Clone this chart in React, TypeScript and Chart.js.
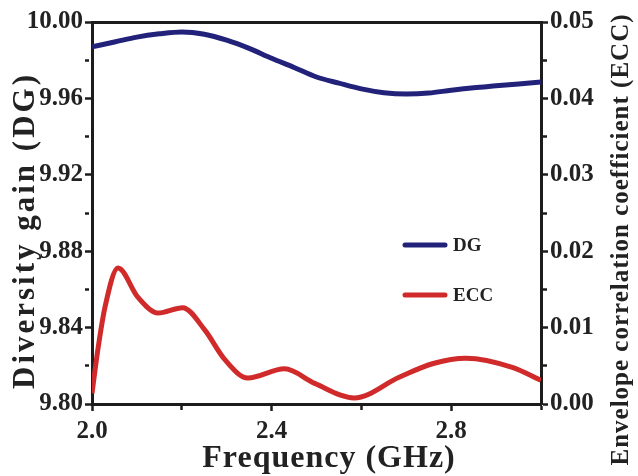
import React, { useEffect, useRef } from "react";
import { Chart, registerables } from "chart.js";

Chart.register(...registerables);

const dgFreq = [2.0, 2.05, 2.1, 2.15, 2.2, 2.25, 2.3, 2.35, 2.4, 2.45, 2.5, 2.55, 2.6, 2.65, 2.7, 2.75, 2.8, 2.85, 2.9, 2.95, 3.0];
const dgValues = [9.987, 9.9895, 9.9921, 9.9938, 9.9948, 9.9936, 9.9905, 9.9862, 9.981, 9.9762, 9.9712, 9.968, 9.965, 9.963, 9.9623, 9.9628, 9.9643, 9.9656, 9.9666, 9.9676, 9.9686];

const eccFreq = [2.0, 2.013, 2.029, 2.058, 2.102, 2.147, 2.202, 2.251, 2.296, 2.347, 2.429, 2.496, 2.584, 2.684, 2.76, 2.833, 2.936, 3.0];
const eccValues = [0.0014, 0.0071, 0.0127, 0.0178, 0.014, 0.0119, 0.0126, 0.0097, 0.0058, 0.0034, 0.0046, 0.0027, 0.0008, 0.0035, 0.0053, 0.006, 0.0048, 0.0031];

const xTicks = [2.0, 2.4, 2.8];
const leftTitle = "Diversity gain (DG)";
const rightTitle = "Envelope correlation coefficient (ECC)";
const xTitle = "Frequency (GHz)";
const seriesNames = ["DG", "ECC"];
const seriesColors = ["#22227a", "#d02a2a"];

const FONT = "'Liberation Serif', 'Times New Roman', serif";
const AXIS = "#1c1c1c";

export default function App() {
  const ref = useRef<HTMLCanvasElement | null>(null);

  useEffect(() => {
    if (!ref.current) return;
    const minorDash = (ctx: any) => (ctx.index % 2 ? [4, 60] : []);
    const legendPlugin = {
      id: "inlineLegend",
      afterDatasetsDraw(chart: any) {
        const { ctx, chartArea } = chart;
        ctx.save();
        chart.data.datasets.forEach((ds: any, i: number) => {
          const x0 = chartArea.left + 313;
          const y = chartArea.top + 223 + i * 50;
          ctx.strokeStyle = ds.borderColor;
          ctx.lineWidth = 5;
          ctx.lineCap = "round";
          ctx.beginPath();
          ctx.moveTo(x0, y);
          ctx.lineTo(x0 + 40, y);
          ctx.stroke();
          ctx.fillStyle = "#222";
          ctx.font = `bold 19px ${FONT}`;
          ctx.textBaseline = "middle";
          ctx.textAlign = "left";
          ctx.fillText(ds.label, x0 + 48, y + 1);
        });
        ctx.restore();
      },
    };
    const drawText = (ctx: any, text: string, x: number, y: number, size: number, spacing: number, rotate: boolean) => {
      ctx.save();
      ctx.translate(x, y);
      if (rotate) ctx.rotate(-Math.PI / 2);
      ctx.fillStyle = "#222";
      ctx.font = `bold ${size}px ${FONT}`;
      try {
        ctx.letterSpacing = `${spacing}px`;
      } catch (e) {}
      ctx.textAlign = "center";
      ctx.textBaseline = "alphabetic";
      ctx.fillText(text, spacing / 2, 0);
      ctx.restore();
    };
    const titlesPlugin = {
      id: "axisTitles",
      afterDraw(chart: any) {
        const { ctx, chartArea } = chart;
        const midY = (chartArea.top + chartArea.bottom) / 2;
        const midX = (chartArea.left + chartArea.right) / 2;
        drawText(ctx, leftTitle, 34, midY + 19, 31, 3, true);
        drawText(ctx, rightTitle, chart.width - 10, midY + 27, 25, 1, true);
        drawText(ctx, xTitle, midX + 12, chart.height - 9, 32, 1, false);
      },
    };

    const chart = new Chart(ref.current, {
      type: "line",
      data: {
        datasets: [
          {
            label: seriesNames[0],
            data: dgFreq.map((f, i) => ({ x: f, y: dgValues[i] })),
            borderColor: seriesColors[0],
            backgroundColor: seriesColors[0],
            borderWidth: 5,
            pointRadius: 0,
            cubicInterpolationMode: "monotone",
            yAxisID: "y",
          },
          {
            label: seriesNames[1],
            data: eccFreq.map((f, i) => ({ x: f, y: eccValues[i] })),
            borderColor: seriesColors[1],
            backgroundColor: seriesColors[1],
            borderWidth: 5,
            pointRadius: 0,
            cubicInterpolationMode: "monotone",
            yAxisID: "y2",
          },
        ],
      },
      options: {
        animation: false,
        responsive: false,
        layout: { padding: { top: 22, left: 0, right: 0, bottom: 0 } },
        plugins: {
          legend: { display: false },
          tooltip: { enabled: false },
        },
        scales: {
          x: {
            type: "linear",
            position: "bottom",
            min: 2.0,
            max: 3.0,
            afterFit: (s: any) => {
              s.height = 72;
            },
            ticks: {
              stepSize: 0.2,
              autoSkip: false,
              maxRotation: 0,
              padding: 6,
              color: "#222",
              font: { family: FONT, size: 25, weight: "bold" },
              callback: (v: any) => {
                const n = Number(v);
                return xTicks.some((t) => Math.abs(t - n) < 1e-6) ? n.toFixed(1) : "";
              },
            },
            grid: {
              drawOnChartArea: false,
              tickLength: 7,
              tickWidth: 2.5,
              tickColor: AXIS,
              tickBorderDash: minorDash,
            },
            border: { color: AXIS, width: 3 },
          },
          xTop: {
            type: "linear",
            position: "top",
            min: 2.0,
            max: 3.0,
            afterFit: (s: any) => {
              s.height = 0;
            },
            ticks: { display: false },
            grid: { drawOnChartArea: false, drawTicks: false },
            border: { color: AXIS, width: 3 },
          },
          y: {
            type: "linear",
            position: "left",
            min: 9.8,
            max: 10.0,
            afterFit: (s: any) => {
              s.width = 92;
            },
            ticks: {
              stepSize: 0.02,
              autoSkip: false,
              padding: 2,
              color: "#222",
              font: { family: FONT, size: 25, weight: "bold" },
              callback: (v: any, i: number) => (i % 2 === 0 ? Number(v).toFixed(2) : ""),
            },
            grid: {
              drawOnChartArea: false,
              tickLength: 7,
              tickWidth: 2.5,
              tickColor: AXIS,
              tickBorderDash: minorDash,
            },
            border: { color: AXIS, width: 3 },
          },
          y2: {
            type: "linear",
            position: "right",
            min: 0,
            max: 0.05,
            afterFit: (s: any) => {
              s.width = 97;
            },
            ticks: {
              stepSize: 0.005,
              autoSkip: false,
              padding: 2,
              color: "#222",
              font: { family: FONT, size: 25, weight: "bold" },
              callback: (v: any, i: number) => (i % 2 === 0 ? Number(v).toFixed(2) : ""),
            },
            grid: {
              drawOnChartArea: false,
              tickLength: 7,
              tickWidth: 2.5,
              tickColor: AXIS,
              tickBorderDash: minorDash,
            },
            border: { color: AXIS, width: 3 },
          },
        },
      },
      plugins: [legendPlugin, titlesPlugin],
    } as any);
    return () => chart.destroy();
  }, []);

  return (
    <div style={{ position: "absolute", left: 0, top: 0, width: 638, height: 476, background: "#fff" }}>
      <canvas ref={ref} width={638} height={476} style={{ display: "block" }} />
    </div>
  );
}
